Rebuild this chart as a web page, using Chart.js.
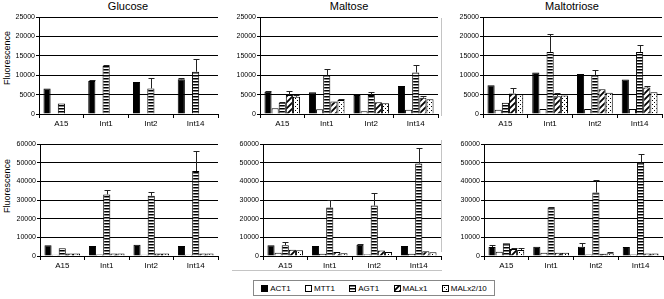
<!DOCTYPE html>
<html>
<head>
<meta charset="utf-8">
<script src="https://cdn.jsdelivr.net/npm/chart.js@4/dist/chart.umd.min.js"></script>
<style>
  body { margin:0; background:#fff; width:664px; height:299px; position:relative; overflow:hidden;
         font-family:"Liberation Sans", Arial, sans-serif; color:#000; }
  canvas.panel { position:absolute; }
  .ttl { position:absolute; font-size:11px; transform:translateX(-50%); white-space:nowrap; }
  .ytl { position:absolute; font-size:9px; transform:translate(-50%,-50%) rotate(-90deg); white-space:nowrap; }
  .legend { position:absolute; left:253px; top:280px; width:242px; height:16px; border:1px solid #888;
            display:flex; align-items:center; justify-content:space-around; font-size:8px; box-sizing:border-box; }
  .legend span { display:flex; align-items:center; }
  .legend canvas { margin-right:2px; }
  .frame { position:absolute; background:#c4c4c4; }
</style>
</head>
<body>
<div class="ttl" style="left:128px;top:0px">Glucose</div>
<div class="ttl" style="left:349px;top:0px">Maltose</div>
<div class="ttl" style="left:572px;top:0px">Maltotriose</div>
<div class="ytl" style="left:7px;top:58px">Fluorescence</div>
<div class="ytl" style="left:7px;top:186px">Fluorescence</div>
<div class="frame" style="left:441px;top:18px;width:1px;height:98px"></div>
<div class="frame" style="left:441px;top:140px;width:1px;height:112px"></div>
<div class="frame" style="left:232px;top:270px;width:210px;height:1px"></div>

<canvas class="panel" id="p0"></canvas>
<canvas class="panel" id="p1"></canvas>
<canvas class="panel" id="p2"></canvas>
<canvas class="panel" id="p3"></canvas>
<canvas class="panel" id="p4"></canvas>
<canvas class="panel" id="p5"></canvas>
<div class="legend" id="legend"></div>

<script>
// categories and series
const categories = ['A15', 'Int1', 'Int2', 'Int14'];
const seriesNames = ['ACT1', 'MTT1', 'AGT1', 'MALx1', 'MALx2/10'];
const topTicks = [0, 5000, 10000, 15000, 20000, 25000];
const bottomTicks = [0, 10000, 20000, 30000, 40000, 50000, 60000];

// values per panel, one row per series (ACT1, MTT1, AGT1, MALx1, MALx2/10)
const glucoseTop = [
  [6600, 8500, 8250, 8950],
  [150, 150, 150, 150],
  [2700, 12400, 6600, 10900],
  [150, 150, 150, 150],
  [150, 150, 150, 150],
];
const glucoseTopErr = [
  [0, 250, 0, 300], [0, 0, 0, 0], [0, 200, 2750, 3400], [0, 0, 0, 0], [0, 0, 0, 0],
];
const maltoseTop = [
  [5750, 5600, 4900, 7200],
  [1500, 1200, 700, 1100],
  [2900, 9900, 4900, 10700],
  [4900, 3200, 3000, 4200],
  [4450, 3600, 2750, 3800],
];
const maltoseTopErr = [
  [250, 0, 0, 0], [0, 0, 0, 0], [200, 1800, 750, 1900], [1100, 0, 0, 400], [400, 150, 0, 0],
];
const maltotrioseTop = [
  [7400, 10700, 10300, 8900],
  [1100, 1300, 1300, 1300],
  [2900, 16000, 9900, 16000],
  [5300, 4600, 6400, 6800],
  [5100, 4800, 5500, 5600],
];
const maltotrioseTopErr = [
  [0, 0, 0, 0], [0, 0, 0, 0], [0, 4500, 1400, 1900], [1300, 900, 0, 300], [0, 0, 0, 0],
];
const glucoseBottom = [
  [5800, 5400, 6000, 5400],
  [700, 800, 700, 700],
  [4100, 33000, 32300, 45500],
  [1400, 1400, 1300, 1400],
  [1400, 1400, 1300, 1400],
];
const glucoseBottomErr = [
  [0, 0, 0, 0], [0, 0, 0, 0], [0, 2200, 2200, 11000], [0, 0, 0, 0], [0, 0, 0, 0],
];
const maltoseBottom = [
  [5700, 5400, 6000, 5400],
  [1700, 1200, 1000, 1200],
  [5800, 26000, 27000, 49500],
  [3300, 2200, 3000, 2500],
  [3100, 1500, 2200, 2000],
];
const maltoseBottomErr = [
  [0, 0, 400, 0], [0, 0, 0, 0], [1800, 4000, 7000, 8500], [0, 0, 0, 0], [0, 0, 0, 0],
];
const maltotrioseBottom = [
  [4800, 4900, 4900, 4800],
  [2300, 1800, 800, 800],
  [6800, 26000, 34000, 50000],
  [3700, 1700, 1200, 1300],
  [3200, 1800, 1500, 1300],
];
const maltotrioseBottomErr = [
  [1300, 0, 1900, 0], [0, 0, 0, 0], [0, 500, 6500, 4500], [800, 0, 0, 0], [900, 0, 400, 0],
];

// fill patterns like the old excel hatches
function makePattern(w, h, draw) {
  const c = document.createElement('canvas');
  c.width = w; c.height = h;
  const g = c.getContext('2d');
  g.fillStyle = '#fff'; g.fillRect(0, 0, w, h);
  g.fillStyle = '#000'; g.strokeStyle = '#000';
  draw(g);
  return g.createPattern(c, 'repeat');
}
const fills = [
  '#000',
  '#fff',
  makePattern(4, 3, g => g.fillRect(0, 0, 4, 1.5)),
  makePattern(6, 6, g => {
    g.lineWidth = 1.8;
    g.beginPath();
    g.moveTo(-1, 7); g.lineTo(7, -1);
    g.moveTo(-4, 4); g.lineTo(4, -4);
    g.moveTo(2, 10); g.lineTo(10, 2);
    g.stroke();
  }),
  makePattern(4, 4, g => { g.fillRect(0, 0, 1, 1); g.fillRect(2, 2, 1, 1); }),
];

const errorBars = {
  id: 'errorBars',
  afterDatasetsDraw(chart) {
    const { ctx, scales: { y } } = chart;
    chart.data.datasets.forEach((ds, i) => {
      const meta = chart.getDatasetMeta(i);
      meta.data.forEach((bar, j) => {
        const e = ds.err[j];
        if (!e) return;
        const yTop = Math.round(y.getPixelForValue(ds.data[j] + e)) + 0.5;
        const x = Math.round(bar.x) + 0.5;
        ctx.save();
        ctx.strokeStyle = '#222'; ctx.lineWidth = 1;
        ctx.beginPath();
        ctx.moveTo(x, bar.y); ctx.lineTo(x, yTop);
        ctx.moveTo(x - 3, yTop); ctx.lineTo(x + 3, yTop);
        ctx.stroke();
        ctx.restore();
      });
    });
  }
};

const panels = [
  { id: 'p0', vals: glucoseTop, err: glucoseTopErr, ticks: topTicks, l: 39, r: 218, t: 17, b: 114, rowTop: 0 },
  { id: 'p1', vals: maltoseTop, err: maltoseTopErr, ticks: topTicks, l: 260, r: 438, t: 17, b: 114, rowTop: 0 },
  { id: 'p2', vals: maltotrioseTop, err: maltotrioseTopErr, ticks: topTicks, l: 483, r: 662, t: 17, b: 114, rowTop: 0 },
  { id: 'p3', vals: glucoseBottom, err: glucoseBottomErr, ticks: bottomTicks, l: 40, r: 218, t: 144, b: 256, rowTop: 130 },
  { id: 'p4', vals: maltoseBottom, err: maltoseBottomErr, ticks: bottomTicks, l: 263, r: 441, t: 144, b: 256, rowTop: 130 },
  { id: 'p5', vals: maltotrioseBottom, err: maltotrioseBottomErr, ticks: bottomTicks, l: 484, r: 663, t: 144, b: 256, rowTop: 130 },
];

const AXW = 39, XH = 16;
panels.forEach(p => {
  const cv = document.getElementById(p.id);
  const left = p.l - AXW, w = p.r - left + 2, h = p.b - p.rowTop + XH;
  Object.assign(cv.style, { left: left + 'px', top: p.rowTop + 'px', width: w + 'px', height: h + 'px' });
  cv.width = w; cv.height = h;
  const maxV = p.ticks[p.ticks.length - 1];
  new Chart(cv.getContext('2d'), {
    type: 'bar',
    data: {
      labels: categories,
      datasets: seriesNames.map((name, i) => ({
        label: name, data: p.vals[i], err: p.err[i],
        backgroundColor: fills[i], borderColor: '#000', borderWidth: 1,
        categoryPercentage: 0.8, barPercentage: 1,
      })),
    },
    options: {
      responsive: false, animation: false,
      layout: { padding: { top: p.t - p.rowTop, right: 2, left: 0, bottom: 0 } },
      plugins: { legend: { display: false }, tooltip: { enabled: false } },
      scales: {
        x: {
          afterFit: s => { s.height = XH; },
          grid: { offset: true, drawOnChartArea: false, color: '#000', tickLength: 4 },
          border: { color: '#000' },
          ticks: { color: '#000', padding: 1, font: { family: 'Liberation Sans', size: 8 } },
        },
        y: {
          min: 0, max: maxV,
          afterFit: s => { s.width = AXW; },
          afterBuildTicks: s => { s.ticks = p.ticks.map(v => ({ value: v })); },
          grid: { color: '#000', tickLength: 3 },
          border: { color: '#000' },
          ticks: { color: '#000', padding: 1, callback: v => String(v), font: { family: 'Liberation Sans', size: 7 } },
        },
      },
    },
    plugins: [errorBars],
  });
});

// legend with the same fills
const lg = document.getElementById('legend');
seriesNames.forEach((name, i) => {
  const sp = document.createElement('span');
  const sw = document.createElement('canvas');
  sw.width = 7; sw.height = 7;
  const g = sw.getContext('2d');
  g.fillStyle = fills[i]; g.fillRect(0, 0, 7, 7);
  g.strokeStyle = '#000'; g.lineWidth = 1; g.strokeRect(0.5, 0.5, 6, 6);
  sp.appendChild(sw);
  sp.appendChild(document.createTextNode(name));
  lg.appendChild(sp);
});
</script>
</body>
</html>
